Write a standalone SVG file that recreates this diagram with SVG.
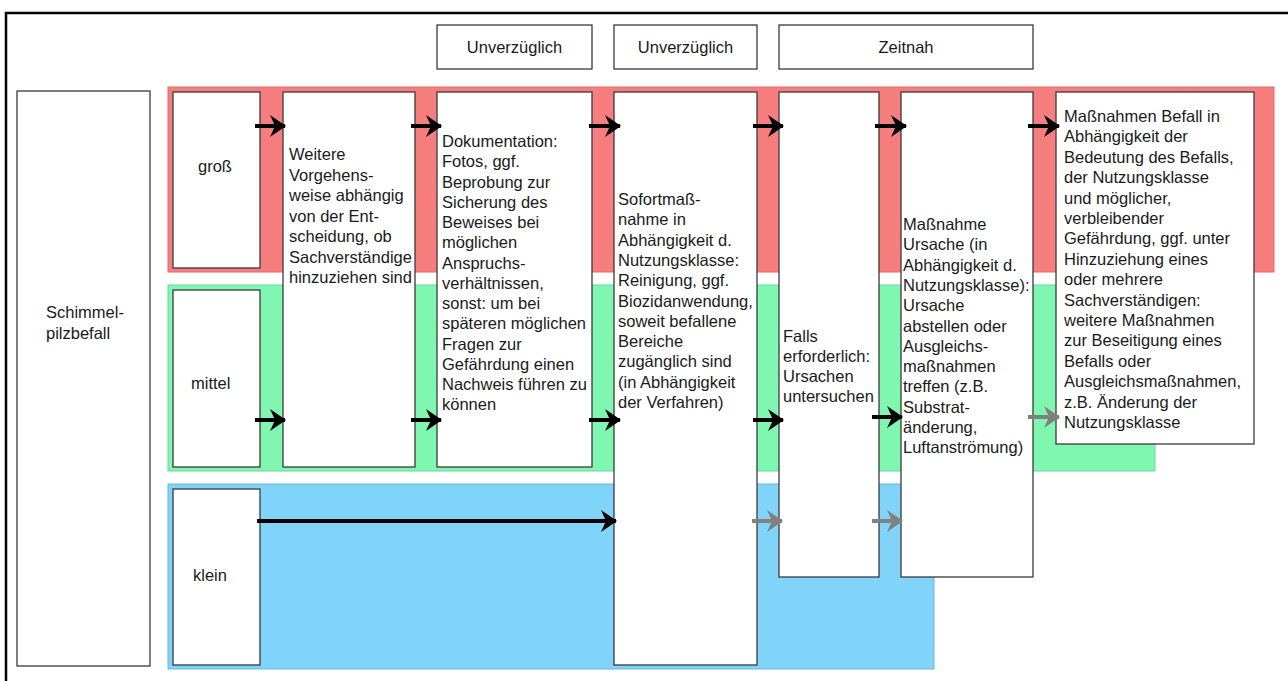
<svg xmlns="http://www.w3.org/2000/svg" width="1288" height="681" viewBox="0 0 1288 681">
<defs>
<style>
.box{fill:#fff;stroke:#3a3a3a;stroke-width:1.3}
.t{font-family:"Liberation Sans",Arial,sans-serif;font-size:16.5px;fill:#1a1a1a}
.red{fill:#f77e7e;stroke:#e06a6a;stroke-width:1}
.green{fill:#80f7b0;stroke:#6ad89a;stroke-width:1}
.blue{fill:#80d4f9;stroke:#6ab8d8;stroke-width:1}
.ab{stroke:#000;stroke-width:4;fill:none}
.ag{stroke:#808080;stroke-width:4;fill:none}
</style>
<marker id="hb" markerUnits="userSpaceOnUse" markerWidth="16" markerHeight="22" viewBox="0 0 16 22" refX="15" refY="11" orient="auto" overflow="visible"><path d="M0,0 L16,11 L0,22 L5,11 z" fill="#000"/></marker>
<marker id="hg" markerUnits="userSpaceOnUse" markerWidth="16" markerHeight="22" viewBox="0 0 16 22" refX="15" refY="11" orient="auto" overflow="visible"><path d="M0,0 L16,11 L0,22 L5,11 z" fill="#808080"/></marker>
</defs>
<rect x="0" y="0" width="1288" height="681" fill="#fff"/>
<rect x="6" y="13" width="1300" height="700" fill="none" stroke="#000" stroke-width="2.5"/>

<g id="bands">
<rect class="red" x="168" y="87" width="1106" height="185"/>
<rect class="green" x="168" y="285" width="987" height="186"/>
<rect class="blue" x="168" y="484" width="766" height="185"/>
</g>

<g id="header1"><rect class="box" x="437" y="25" width="155" height="44"/><text class="t" x="514.5" y="53" text-anchor="middle">Unverzüglich</text></g>
<g id="header2"><rect class="box" x="614" y="25" width="143" height="44"/><text class="t" x="685.5" y="53" text-anchor="middle">Unverzüglich</text></g>
<g id="header3"><rect class="box" x="779" y="25" width="254" height="44"/><text class="t" x="906" y="53" text-anchor="middle">Zeitnah</text></g>

<g id="schimmel"><rect class="box" x="17" y="91" width="133" height="575"/>
<text class="t" x="46" y="318">Schimmel-</text><text class="t" x="46" y="339">pilzbefall</text></g>

<g id="gross"><rect class="box" x="173" y="92" width="87" height="176"/><text class="t" x="198" y="172">groß</text></g>
<g id="mittel"><rect class="box" x="173" y="290" width="87" height="177"/><text class="t" x="191" y="389">mittel</text></g>
<g id="klein"><rect class="box" x="173" y="489" width="87" height="176"/><text class="t" x="193" y="581">klein</text></g>

<g id="col1"><rect class="box" x="283" y="92" width="132" height="375"/>
<text class="t" x="289" y="160">Weitere</text>
<text class="t" x="289" y="180.5">Vorgehens-</text>
<text class="t" x="289" y="201">weise abhängig</text>
<text class="t" x="289" y="221.5">von der Ent-</text>
<text class="t" x="289" y="242">scheidung, ob</text>
<text class="t" x="289" y="262.5">Sachverständige</text>
<text class="t" x="289" y="283">hinzuziehen sind</text>
</g>

<g id="col2"><rect class="box" x="437" y="92" width="155" height="375"/>
<text class="t" x="442" y="147">Dokumentation:</text>
<text class="t" x="442" y="167.2">Fotos, ggf.</text>
<text class="t" x="442" y="187.5">Beprobung zur</text>
<text class="t" x="442" y="207.7">Sicherung des</text>
<text class="t" x="442" y="228">Beweises bei</text>
<text class="t" x="442" y="248.2">möglichen</text>
<text class="t" x="442" y="268.5">Anspruchs-</text>
<text class="t" x="442" y="288.7">verhältnissen,</text>
<text class="t" x="442" y="309">sonst: um bei</text>
<text class="t" x="442" y="329.2">späteren möglichen</text>
<text class="t" x="442" y="349.5">Fragen zur</text>
<text class="t" x="442" y="369.7">Gefährdung einen</text>
<text class="t" x="442" y="390">Nachweis führen zu</text>
<text class="t" x="442" y="410.2">können</text>
</g>

<g id="col3"><rect class="box" x="614" y="92" width="143" height="573"/>
<text class="t" x="618" y="205">Sofortmaß-</text>
<text class="t" x="618" y="225.3">nahme in</text>
<text class="t" x="618" y="245.6">Abhängigkeit d.</text>
<text class="t" x="618" y="265.9">Nutzungsklasse:</text>
<text class="t" x="618" y="286.2">Reinigung, ggf.</text>
<text class="t" x="618" y="306.5">Biozidanwendung,</text>
<text class="t" x="618" y="326.8">soweit befallene</text>
<text class="t" x="618" y="347.1">Bereiche</text>
<text class="t" x="618" y="367.4">zugänglich sind</text>
<text class="t" x="618" y="387.7">(in Abhängigkeit</text>
<text class="t" x="618" y="408">der Verfahren)</text>
</g>

<g id="col4"><rect class="box" x="779" y="92" width="100" height="485"/>
<text class="t" x="783" y="342">Falls</text>
<text class="t" x="783" y="362">erforderlich:</text>
<text class="t" x="783" y="382">Ursachen</text>
<text class="t" x="783" y="402">untersuchen</text>
</g>

<g id="col5"><rect class="box" x="901" y="92" width="132" height="485"/>
<text class="t" x="903" y="230">Maßnahme</text>
<text class="t" x="903" y="250.3">Ursache (in</text>
<text class="t" x="903" y="270.6">Abhängigkeit d.</text>
<text class="t" x="903" y="290.9">Nutzungsklasse):</text>
<text class="t" x="903" y="311.2">Ursache</text>
<text class="t" x="903" y="331.5">abstellen oder</text>
<text class="t" x="903" y="351.8">Ausgleichs-</text>
<text class="t" x="903" y="372.1">maßnahmen</text>
<text class="t" x="903" y="392.4">treffen (z.B.</text>
<text class="t" x="903" y="412.7">Substrat-</text>
<text class="t" x="903" y="433">änderung,</text>
<text class="t" x="903" y="453.3">Luftanströmung)</text>
</g>

<g id="col6"><rect class="box" x="1056" y="92" width="198" height="352"/>
<text class="t" x="1064" y="122">Maßnahmen Befall in</text>
<text class="t" x="1064" y="142.4">Abhängigkeit der</text>
<text class="t" x="1064" y="162.8">Bedeutung des Befalls,</text>
<text class="t" x="1064" y="183.2">der Nutzungsklasse</text>
<text class="t" x="1064" y="203.6">und möglicher,</text>
<text class="t" x="1064" y="224">verbleibender</text>
<text class="t" x="1064" y="244.4">Gefährdung, ggf. unter</text>
<text class="t" x="1064" y="264.8">Hinzuziehung eines</text>
<text class="t" x="1064" y="285.2">oder mehrere</text>
<text class="t" x="1064" y="305.6">Sachverständigen:</text>
<text class="t" x="1064" y="326">weitere Maßnahmen</text>
<text class="t" x="1064" y="346.4">zur Beseitigung eines</text>
<text class="t" x="1064" y="366.8">Befalls oder</text>
<text class="t" x="1064" y="387.2">Ausgleichsmaßnahmen,</text>
<text class="t" x="1064" y="407.6">z.B. Änderung der</text>
<text class="t" x="1064" y="428">Nutzungsklasse</text>
</g>

<g id="connectors">
<line class="ab" x1="255" y1="126" x2="285" y2="126" marker-end="url(#hb)"/>
<line class="ab" x1="411" y1="126" x2="441" y2="126" marker-end="url(#hb)"/>
<line class="ab" x1="589" y1="126" x2="620" y2="126" marker-end="url(#hb)"/>
<line class="ab" x1="753" y1="126" x2="783" y2="126" marker-end="url(#hb)"/>
<line class="ab" x1="875" y1="126" x2="906" y2="126" marker-end="url(#hb)"/>
<line class="ab" x1="1028" y1="126" x2="1059" y2="126" marker-end="url(#hb)"/>
<line class="ab" x1="255" y1="420" x2="285" y2="420" marker-end="url(#hb)"/>
<line class="ab" x1="411" y1="420" x2="441" y2="420" marker-end="url(#hb)"/>
<line class="ab" x1="589" y1="420" x2="620" y2="420" marker-end="url(#hb)"/>
<line class="ab" x1="753" y1="420" x2="783" y2="420" marker-end="url(#hb)"/>
<line class="ab" x1="872" y1="417" x2="902" y2="417" marker-end="url(#hb)"/>
<line class="ag" x1="1028" y1="417" x2="1059" y2="417" marker-end="url(#hg)"/>
<line class="ab" x1="257" y1="521" x2="616" y2="521" marker-end="url(#hb)"/>
<line class="ag" x1="752" y1="521" x2="782" y2="521" marker-end="url(#hg)"/>
<line class="ag" x1="872" y1="521" x2="902" y2="521" marker-end="url(#hg)"/>
</g>
</svg>
